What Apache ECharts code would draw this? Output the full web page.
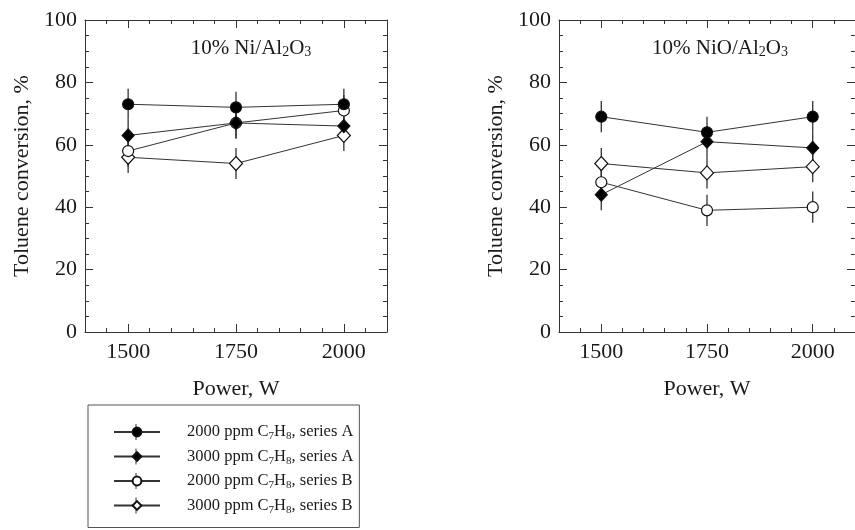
<!DOCTYPE html>
<html><head><meta charset="utf-8">
<script src="https://cdn.jsdelivr.net/npm/echarts@6/dist/echarts.min.js"></script>
<style>html,body{margin:0;padding:0;background:#fff}#c{width:855px;height:530px}</style>
</head><body><div id="c"></div>
<script>
// ---- data ----
const powers = [1500, 1750, 2000];
const seriesNames = ['2000 ppm C7H8, series A', '3000 ppm C7H8, series A', '2000 ppm C7H8, series B', '3000 ppm C7H8, series B'];
const panelTitles = ['10% Ni/Al{sub|2}O{sub|3}', '10% NiO/Al{sub|2}O{sub|3}'];
const xTickLabels = [1500, 1750, 2000];
// 10% Ni/Al2O3
const ni_2000A = [73, 72, 73];
const ni_3000A = [63, 67, 66];
const ni_2000B = [58, 67, 71];
const ni_3000B = [56, 54, 63];
// 10% NiO/Al2O3
const nio_2000A = [69, 64, 69];
const nio_3000A = [44, 61, 59];
const nio_2000B = [48, 39, 40];
const nio_3000B = [54, 51, 53];
// error bars (±)
const ni_err = [[5, 5, 5], [5, 5, 5], [5, 5, 5], [5, 5, 5]];
const nio_err = [[5, 5, 5], [5, 5, 5], [5, 5, 5], [5, 5, 5]];

const panels = [
  [ni_2000A, ni_3000A, ni_2000B, ni_3000B],
  [nio_2000A, nio_3000A, nio_2000B, nio_3000B]
];
const errs = [ni_err, nio_err];

// ---- styles ----
const FONT = 'Liberation Serif';
const TXT = '#1a1a1a';
const LINE = '#333';
const symStyles = [
  {symbol: 'circle', size: 11, fill: '#000', z: 6},
  {symbol: 'diamond', size: [12, 13], fill: '#000', z: 5},
  {symbol: 'circle', size: 11, fill: '#fff', z: 4},
  {symbol: 'diamond', size: [13, 14], fill: '#fff', z: 3}
];
const gridLeft = [85, 559];
const grids = gridLeft.map(l => ({left: l, top: 20, width: 302, height: 312}));

const xAxes = [], yAxes = [], series = [];
const sub = {fontSize: 11, fontFamily: FONT, color: TXT, verticalAlign: 'bottom', padding: [7, 0, 0, 0]};
const subBig = {fontSize: 14, fontFamily: FONT, color: TXT, verticalAlign: 'bottom', padding: [9, 0, 0, 0]};

grids.forEach((g, gi) => {
  const base = {gridIndex: gi, type: 'value', min: 1400, max: 2100, interval: 50,
    splitLine: {show: false}, axisLine: {lineStyle: {color: LINE, width: 1}}};
  xAxes.push(Object.assign({}, base, {
    position: 'bottom', name: 'Power, W', nameLocation: 'middle', nameGap: 46,
    nameTextStyle: {fontFamily: FONT, fontSize: 22, color: TXT},
    axisTick: {inside: true, length: 4, lineStyle: {color: LINE}},
    axisLabel: {customValues: xTickLabels, formatter: v => String(v),
      fontFamily: FONT, fontSize: 22, color: TXT, margin: 9}
  }));
  xAxes.push(Object.assign({}, base, {
    position: 'bottom', axisLine: {show: false},
    axisTick: {inside: true, length: 8, customValues: xTickLabels, lineStyle: {color: LINE}},
    axisLabel: {show: false}
  }));
  xAxes.push(Object.assign({}, base, {
    position: 'top',
    axisTick: {inside: true, length: 4, lineStyle: {color: LINE}},
    axisLabel: {show: false}
  }));
  xAxes.push(Object.assign({}, base, {
    position: 'top', axisLine: {show: false},
    axisTick: {inside: true, length: 8, customValues: xTickLabels, lineStyle: {color: LINE}},
    axisLabel: {show: false}
  }));
  const ybase = {gridIndex: gi, type: 'value', min: 0, max: 100, interval: 20,
    splitLine: {show: false}, axisLine: {show: true, lineStyle: {color: LINE, width: 1}},
    axisTick: {show: true, inside: true, length: 8, lineStyle: {color: LINE}},
    minorTick: {show: true, splitNumber: 4, length: 4, lineStyle: {color: LINE}}};
  yAxes.push(Object.assign({}, ybase, {
    position: 'left', name: 'Toluene conversion, %', nameLocation: 'middle', nameGap: 52,
    nameTextStyle: {fontFamily: FONT, fontSize: 22, color: TXT},
    axisLabel: {fontFamily: FONT, fontSize: 22, color: TXT, margin: 8}
  }));
  yAxes.push(Object.assign({}, ybase, {position: 'right', axisLabel: {show: false}}));

  const errData = [];
  panels[gi].forEach((vals, si) => {
    vals.forEach((v, k) => errData.push([powers[k], v, errs[gi][si][k]]));
  });
  series.push({
    type: 'custom', xAxisIndex: gi * 4, yAxisIndex: gi * 2, z: 1, silent: true,
    data: errData,
    renderItem: (params, api) => {
      const x = api.value(0), y = api.value(1), e = api.value(2);
      const p1 = api.coord([x, y - e]), p2 = api.coord([x, y + e]);
      return {type: 'line', shape: {x1: p1[0], y1: p1[1], x2: p2[0], y2: p2[1]},
        style: {stroke: LINE, lineWidth: 1.3}};
    }
  });
  panels[gi].forEach((vals, si) => {
    const st = symStyles[si];
    series.push({
      type: 'line', name: seriesNames[si], xAxisIndex: gi * 4, yAxisIndex: gi * 2,
      data: vals.map((v, k) => [powers[k], v]),
      symbol: st.symbol, symbolSize: st.size, showAllSymbol: true, z: st.z,
      lineStyle: {color: LINE, width: 1},
      itemStyle: {color: st.fill, borderColor: '#111', borderWidth: 1.2, opacity: 1},
      emphasis: {disabled: true}, animation: false
    });
  });
});

// legend layout
const LEG_LEFT = 88, LEG_TOP = 405, LEG_PAD = [17, 6, 12, 25], ROW_H = 20, ROW_GAP = 4.5, ICON_W = 46;
const legendBars = seriesNames.map((n, i) => {
  const cy = LEG_TOP + LEG_PAD[0] + ROW_H / 2 + i * (ROW_H + ROW_GAP);
  const cx = LEG_LEFT + LEG_PAD[3] + ICON_W / 2;
  return {type: 'line', z: 100, silent: true,
    shape: {x1: cx, y1: cy - 8, x2: cx, y2: cy + 8}, style: {stroke: LINE, lineWidth: 1}};
});

const chart = echarts.init(document.getElementById('c'), null, {renderer: 'canvas'});
chart.setOption({
  animation: false,
  backgroundColor: '#fff',
  grid: grids,
  xAxis: xAxes,
  yAxis: yAxes,
  series: series,
  legend: {
    data: seriesNames, orient: 'vertical', left: LEG_LEFT, top: LEG_TOP,
    padding: LEG_PAD, itemGap: ROW_GAP, itemWidth: ICON_W, itemHeight: 11,
    borderColor: '#555', borderWidth: 1, selectedMode: false, z: 101,
    formatter: n => n.replace('C7H8', 'C{sub|7}H{sub|8}'),
    textStyle: {fontFamily: FONT, fontSize: 16.5, color: TXT, lineHeight: ROW_H,
      padding: [0, 0, 0, 22], rich: {sub: sub}}
  },
  graphic: legendBars.concat(panelTitles.map((t, i) => ({
    type: 'text', x: [251, 720][i], y: 48,
    style: {text: t, align: 'center', verticalAlign: 'middle',
      fontFamily: FONT, fontSize: 21, fill: TXT, rich: {sub: subBig}}
  })))
});
</script></body></html>
